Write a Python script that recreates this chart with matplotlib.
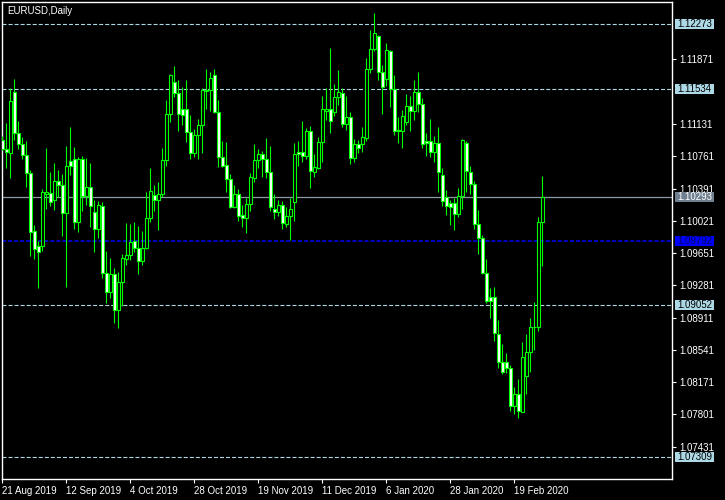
import numpy as np
import matplotlib
matplotlib.use("Agg")
import matplotlib.pyplot as plt
from matplotlib.patches import Rectangle
from matplotlib.transforms import blended_transform_factory

# EURUSD daily bars, 21 Aug 2019 .. 28 Feb 2020
opens = [1.10947, 1.10844, 1.10795, 1.11494, 1.11024, 1.10898, 1.10775, 1.10565, 1.09904, 1.09728,
         1.09735, 1.10331, 1.10336, 1.10256, 1.10474, 1.10428, 1.10107, 1.10703, 1.10726, 1.10004,
         1.10726, 1.10302, 1.10405, 1.10122, 1.09924, 1.10187, 1.09419, 1.09201, 1.09407, 1.08995,
         1.09316, 1.09579, 1.09625, 1.09789, 1.09706, 1.09557, 1.09706, 1.10049, 1.10313, 1.10256,
         1.10325, 1.10714, 1.11245, 1.11612, 1.11489, 1.11302, 1.11299, 1.11035, 1.10795, 1.11001,
         1.11116, 1.11520, 1.11517, 1.11689, 1.11271, 1.10749, 1.10660, 1.10497, 1.10182, 1.10325,
         1.10087, 1.10049, 1.10210, 1.10508, 1.10718, 1.10783, 1.10726, 1.10577, 1.10156, 1.10125,
         1.10202, 1.09984, 1.10076, 1.10240, 1.10806, 1.10806, 1.10767, 1.11050, 1.10577, 1.10630,
         1.10921, 1.11283, 1.11299, 1.11271, 1.11437, 1.11482, 1.11127, 1.11207, 1.10744, 1.10898,
         1.10898, 1.10973, 1.11758, 1.11987, 1.12139, 1.11723, 1.11650, 1.11967, 1.11528, 1.11062,
         1.11054, 1.11157, 1.11340, 1.11283, 1.11494, 1.11356, 1.10936, 1.10930, 1.10813, 1.10918,
         1.10546, 1.10290, 1.10225, 1.10221, 1.10095, 1.10309, 1.10909, 1.10584, 1.10439, 1.09988,
         1.09827, 1.09419, 1.09144, 1.09144, 1.08720, 1.08406, 1.08399, 1.08337, 1.07901, 1.08032,
         1.07832, 1.08245, 1.08513, 1.08800, 1.08800, 1.10004]
highs = [1.10993, 1.11138, 1.11540, 1.11646, 1.11165, 1.10985, 1.10939, 1.10603, 1.09973, 1.09793,
         1.10382, 1.10855, 1.10577, 1.10683, 1.10603, 1.10557, 1.10878, 1.11096, 1.10867, 1.10752,
         1.10764, 1.10741, 1.10683, 1.10256, 1.10244, 1.10233, 1.09671, 1.09598, 1.09476, 1.09430,
         1.09637, 1.09992, 1.09981, 1.10007, 1.09961, 1.09900, 1.10348, 1.10623, 1.10428, 1.10462,
         1.10852, 1.11406, 1.11704, 1.11800, 1.11635, 1.11551, 1.11635, 1.11234, 1.11073, 1.11188,
         1.11540, 1.11761, 1.11730, 1.11761, 1.11406, 1.10936, 1.10924, 1.10554, 1.10431, 1.10385,
         1.10202, 1.10286, 1.10572, 1.10901, 1.10844, 1.10824, 1.10967, 1.10878, 1.10325, 1.10259,
         1.10248, 1.10182, 1.10279, 1.10909, 1.10936, 1.11165, 1.11081, 1.11111, 1.10787, 1.10981,
         1.11451, 1.11540, 1.12005, 1.11589, 1.11750, 1.11540, 1.11451, 1.11265, 1.10958, 1.10947,
         1.11100, 1.11884, 1.12208, 1.12400, 1.12151, 1.11807, 1.12056, 1.11979, 1.11692, 1.11211,
         1.11291, 1.11474, 1.11451, 1.11635, 1.11730, 1.11425, 1.11024, 1.11184, 1.10993, 1.11096,
         1.10623, 1.10374, 1.10259, 1.10286, 1.10393, 1.10958, 1.10936, 1.10649, 1.10477, 1.10145,
         1.09858, 1.09583, 1.09247, 1.09259, 1.08884, 1.08605, 1.08502, 1.08368, 1.08112, 1.08204,
         1.08635, 1.08720, 1.08910, 1.09087, 1.10061, 1.10534]
lows = [1.10832, 1.10630, 1.10515, 1.10947, 1.10844, 1.10729, 1.10412, 1.09617, 1.09579, 1.09254,
        1.09678, 1.10159, 1.10190, 1.10141, 1.10294, 1.09850, 1.09265, 1.10546, 1.09927, 1.09896,
        1.10137, 1.10198, 1.09953, 1.09660, 1.09827, 1.09369, 1.09075, 1.09139, 1.08846, 1.08788,
        1.09044, 1.09511, 1.09568, 1.09660, 1.09407, 1.09511, 1.09694, 1.10004, 1.10130, 1.09912,
        1.10290, 1.10646, 1.11153, 1.11443, 1.11054, 1.11122, 1.10928, 1.10726, 1.10756, 1.10733,
        1.10802, 1.11306, 1.11279, 1.11253, 1.10634, 1.10641, 1.10354, 1.10164, 1.10164, 1.10022,
        1.09953, 1.09884, 1.10137, 1.10469, 1.10623, 1.10526, 1.10515, 1.10137, 1.10038, 1.10079,
        1.09927, 1.09953, 1.09801, 1.10022, 1.10653, 1.10698, 1.10729, 1.10393, 1.10526, 1.10615,
        1.10698, 1.11176, 1.11031, 1.11222, 1.11348, 1.11100, 1.11062, 1.10669, 1.10691, 1.10795,
        1.10813, 1.10939, 1.11712, 1.11971, 1.11635, 1.11245, 1.11566, 1.11329, 1.11004, 1.10913,
        1.10852, 1.11122, 1.11054, 1.11176, 1.11271, 1.10859, 1.10764, 1.10756, 1.10698, 1.10354,
        1.10194, 1.10087, 1.09973, 1.09915, 1.10068, 1.10156, 1.10348, 1.10325, 1.09927, 1.09640,
        1.09411, 1.09075, 1.08910, 1.08646, 1.08330, 1.08264, 1.08279, 1.07840, 1.07806, 1.07763,
        1.07830, 1.08036, 1.08291, 1.08540, 1.08761, 1.09506]
closes = [1.10844, 1.10806, 1.11394, 1.11024, 1.10901, 1.10775, 1.10565, 1.09889, 1.09698, 1.09660,
          1.10347, 1.10354, 1.10240, 1.10474, 1.10428, 1.10107, 1.10646, 1.10646, 1.10004, 1.10726,
          1.10302, 1.10405, 1.10187, 1.09924, 1.10198, 1.09419, 1.09201, 1.09407, 1.08995, 1.09316,
          1.09591, 1.09625, 1.09774, 1.09706, 1.09557, 1.09706, 1.10049, 1.10359, 1.10256, 1.10325,
          1.10714, 1.11248, 1.11692, 1.11489, 1.11245, 1.11239, 1.11035, 1.10795, 1.11001, 1.11116,
          1.11517, 1.11509, 1.11654, 1.11271, 1.10749, 1.10653, 1.10497, 1.10182, 1.10325, 1.10079,
          1.10049, 1.10210, 1.10523, 1.10718, 1.10783, 1.10726, 1.10577, 1.10182, 1.10125, 1.10202,
          1.09992, 1.10076, 1.10156, 1.10783, 1.10783, 1.10767, 1.11050, 1.10595, 1.10634, 1.10921,
          1.11299, 1.11299, 1.11168, 1.11437, 1.11494, 1.11127, 1.11207, 1.10744, 1.10898, 1.10852,
          1.10978, 1.11758, 1.11987, 1.12170, 1.11723, 1.11558, 1.11979, 1.11528, 1.11054, 1.11054,
          1.11222, 1.11340, 1.11279, 1.11494, 1.11356, 1.10898, 1.10918, 1.10813, 1.10918, 1.10580,
          1.10251, 1.10190, 1.10182, 1.10095, 1.10309, 1.10947, 1.10595, 1.10439, 1.09988, 1.09827,
          1.09426, 1.09105, 1.09105, 1.08731, 1.08406, 1.08291, 1.08337, 1.07901, 1.08032, 1.07840,
          1.08463, 1.08513, 1.08800, 1.08805, 1.10004, 1.10293]

date_ticks = [0, 16, 32, 48, 64, 80, 96, 112, 128]
date_labels = ["21 Aug 2019", "12 Sep 2019", "4 Oct 2019", "28 Oct 2019", "19 Nov 2019",
               "11 Dec 2019", "6 Jan 2020", "28 Jan 2020", "19 Feb 2020"]
price_ticks = [1.07431, 1.07801, 1.08171, 1.08541, 1.08911, 1.09281, 1.09651, 1.10021,
               1.10391, 1.10761, 1.11131, 1.11871]

level_lines = [1.12273, 1.11534, 1.09052, 1.07309]
pending_level = 1.09792
last_price = 1.10293

plt.rcParams['font.family'] = ['Liberation Sans', 'DejaVu Sans']
plt.rcParams['lines.scale_dashes'] = False

fig = plt.figure(figsize=(7.25, 5), dpi=100, facecolor='black')
ax = fig.add_axes([2 / 725, 21 / 500, 670 / 725, 477 / 500])
ax.set_facecolor('black')

green = '#00ff00'
for i, (o, h, l, c) in enumerate(zip(opens, highs, lows, closes)):
    ax.vlines(i, l, h, color=green, linewidth=0.8, zorder=3)
    fill = 'white' if c < o else 'black'
    bottom = min(o, c)
    height = max(abs(c - o), 0.00002)
    ax.add_patch(Rectangle((i - 0.36, bottom), 0.72, height, facecolor=fill,
                           edgecolor=green, linewidth=0.8, zorder=4))

ymin, ymax = 1.07061, 1.12529
ax.set_xlim(-0.075, 167.425)
ax.set_ylim(ymin, ymax)

# horizontal levels
dash = (0, (2.9, 1.45))
for lvl in level_lines:
    ax.axhline(lvl, color='#add8e6', linewidth=0.8, linestyle=dash, zorder=2)
ax.axhline(pending_level, color='#0000ff', linewidth=1.1, linestyle=dash, zorder=2)
ax.axhline(last_price, color='#8c9aa6', linewidth=0.9, zorder=2)

# price boxes on the right scale
trans = blended_transform_factory(ax.transAxes, ax.transData)
box_h = 10 * (ymax - ymin) / 477

def price_box(y, fc, tc):
    ax.add_patch(Rectangle((1 + 3 / 670, y - box_h / 2), 39 / 670, box_h, transform=trans,
                           facecolor=fc, edgecolor='none', clip_on=False, zorder=9))
    ax.text(1 + 5.5 / 670, y, f"{y:.5f}", transform=trans, va='center', ha='left',
            fontsize=7, color=tc, clip_on=False, zorder=10)

for lvl in level_lines:
    price_box(lvl, '#add8e6', 'black')
price_box(pending_level, '#0000ff', '#00005a')
price_box(last_price, '#708090', 'white')

ax.yaxis.tick_right()
ax.set_yticks(price_ticks)
ax.set_yticklabels([f"{p:.5f}" for p in price_ticks])
ax.set_xticks(date_ticks)
ax.set_xticklabels(date_labels, ha='left')
ax.tick_params(colors='white', labelcolor='white', labelsize=7, length=3, width=0.8, pad=2)

for s in ax.spines.values():
    s.set_color('white')
    s.set_linewidth(1)

ax.text(5 / 670, 1 - 4 / 477, "EURUSD,Daily", transform=ax.transAxes, va='top', ha='left',
        fontsize=7, color='white', zorder=10)

fig.savefig('out.png', dpi=100, facecolor='black')
